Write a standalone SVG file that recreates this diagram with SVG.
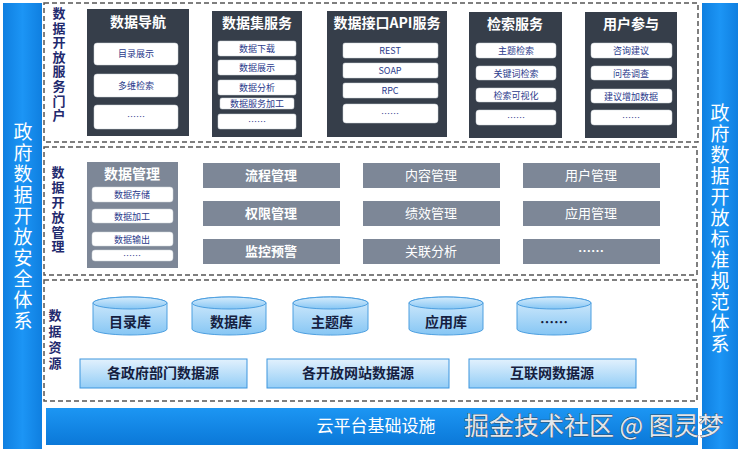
<svg xmlns="http://www.w3.org/2000/svg" width="740" height="453" viewBox="0 0 740 453">
<defs>
<linearGradient id="blueBar" x1="0" y1="0" x2="1" y2="0">
<stop offset="0" stop-color="#0f7fe0"/><stop offset="0.5" stop-color="#1c95f5"/><stop offset="1" stop-color="#0f7fe0"/>
</linearGradient>
<linearGradient id="cloud" x1="0" y1="0" x2="0" y2="1">
<stop offset="0" stop-color="#1c96f3"/><stop offset="1" stop-color="#0b78d8"/>
</linearGradient>
<linearGradient id="cyl" x1="0" y1="0" x2="0" y2="1">
<stop offset="0" stop-color="#d6ecfc"/><stop offset="1" stop-color="#86c6f4"/>
</linearGradient>
<linearGradient id="src" x1="0" y1="0" x2="0" y2="1">
<stop offset="0" stop-color="#e2f1fd"/><stop offset="1" stop-color="#93cdf6"/>
</linearGradient>
<style>
.dash{fill:#fff;stroke:#555;stroke-width:1.5;stroke-dasharray:5 3}
.side{fill:url(#blueBar)}
.vert{writing-mode:vertical-rl;text-orientation:upright}
.sideT{font-family:"Noto Sans CJK SC","Noto Sans",sans-serif;font-size:19px;fill:#fff}
.lbl{font-family:"Noto Sans CJK SC",sans-serif;font-size:13px;font-weight:bold;fill:#1f2a6e}
.panel{fill:#363e4a}
.pT{font-family:"Noto Sans CJK SC",sans-serif;font-size:14px;font-weight:bold;fill:#fff;text-anchor:middle}
.ib{fill:#fff;stroke:#cfd4da;stroke-width:0.5}
.iT{font-family:"Noto Sans CJK SC","Liberation Sans",sans-serif;font-size:9px;fill:#2b3b8c;text-anchor:middle}
.gray{fill:#7d8797}
.gT{font-family:"Noto Sans CJK SC",sans-serif;font-size:13px;fill:#fff;text-anchor:middle}
.cyl{fill:url(#cyl);stroke:#4d9fe0;stroke-width:1}
.cT{font-family:"Noto Sans CJK SC",sans-serif;font-size:14px;font-weight:bold;fill:#15203f;text-anchor:middle}
.srcB{fill:url(#src);stroke:#3d95de;stroke-width:1}
</style>
</defs>
<rect width="740" height="453" fill="#fff"/>

<g id="left-bar">
<rect class="side" x="3" y="3" width="39" height="446"/>
<text class="sideT vert" x="23" y="122" letter-spacing="2">政府数据开放安全体系</text>
</g>
<g id="right-bar">
<rect class="side" x="702" y="3" width="36" height="446"/>
<text class="sideT vert" x="720" y="103" font-size="18" letter-spacing="2">政府数据开放标准规范体系</text>
</g>

<g id="portal">
<rect class="dash" x="44" y="3" width="654" height="139"/>
<text class="lbl vert" x="59" y="6.5" letter-spacing="1.6">数据开放服务门户</text>
</g>
<g id="nav">
<rect class="panel" x="87" y="9" width="102" height="127"/>
<text class="pT" x="138" y="27">数据导航</text>
<rect class="ib" x="94" y="43" width="84" height="22" rx="3"/><text class="iT" x="136" y="57">目录展示</text>
<rect class="ib" x="94" y="74" width="84" height="23" rx="3"/><text class="iT" x="136" y="89">多维检索</text>
<rect class="ib" x="94" y="105" width="84" height="24" rx="3"/><text class="iT" x="136" y="120">……</text>
</g>
<g id="dataset">
<rect class="panel" x="212" y="11" width="90" height="126"/>
<text class="pT" x="257" y="28">数据集服务</text>
<rect class="ib" x="218" y="41" width="78" height="15" rx="2"/><text class="iT" x="257" y="52">数据下载</text>
<rect class="ib" x="218" y="60" width="78" height="15" rx="2"/><text class="iT" x="257" y="71">数据展示</text>
<rect class="ib" x="218" y="80" width="78" height="15" rx="2"/><text class="iT" x="257" y="91">数据分析</text>
<rect class="ib" x="220" y="98" width="74" height="11" rx="2"/><text class="iT" x="257" y="107">数据服务加工</text>
<rect class="ib" x="218" y="114" width="78" height="15" rx="2"/><text class="iT" x="257" y="125">……</text>
</g>
<g id="api">
<rect class="panel" x="327" y="11" width="120" height="126"/>
<text class="pT" x="387" y="28">数据接口API服务</text>
<rect class="ib" x="343" y="43" width="95" height="15" rx="2"/><text class="iT" x="390" y="54">REST</text>
<rect class="ib" x="343" y="63" width="95" height="15" rx="2"/><text class="iT" x="390" y="74">SOAP</text>
<rect class="ib" x="343" y="83" width="95" height="15" rx="2"/><text class="iT" x="390" y="94">RPC</text>
<rect class="ib" x="343" y="104" width="95" height="19" rx="3"/><text class="iT" x="390" y="117">……</text>
</g>
<g id="search">
<rect class="panel" x="469" y="12" width="93" height="126"/>
<text class="pT" x="515" y="29">检索服务</text>
<rect class="ib" x="476" y="43" width="80" height="15" rx="3"/><text class="iT" x="516" y="54">主题检索</text>
<rect class="ib" x="476" y="66" width="80" height="14" rx="3"/><text class="iT" x="516" y="77">关键词检索</text>
<rect class="ib" x="476" y="88" width="80" height="14" rx="3"/><text class="iT" x="516" y="99">检索可视化</text>
<rect class="ib" x="476" y="110" width="80" height="15" rx="3"/><text class="iT" x="516" y="121">……</text>
</g>
<g id="user">
<rect class="panel" x="585" y="12" width="92" height="126"/>
<text class="pT" x="631" y="29">用户参与</text>
<rect class="ib" x="591" y="43" width="81" height="15" rx="3"/><text class="iT" x="631" y="54">咨询建议</text>
<rect class="ib" x="591" y="66" width="81" height="14" rx="3"/><text class="iT" x="631" y="77">问卷调查</text>
<rect class="ib" x="591" y="89" width="81" height="14" rx="3"/><text class="iT" x="631" y="100">建议增加数据</text>
<rect class="ib" x="591" y="110" width="81" height="15" rx="3"/><text class="iT" x="631" y="121">……</text>
</g>

<g id="management">
<rect class="dash" x="44" y="147" width="653" height="128"/>
<text class="lbl vert" x="58" y="166" letter-spacing="1.8">数据开放管理</text>
</g>
<g id="datamgmt">
<rect class="gray" x="87" y="162" width="91" height="106"/>
<text class="pT" x="132" y="179">数据管理</text>
<rect class="ib" x="92" y="187" width="81" height="15" rx="3"/><text class="iT" x="132" y="198">数据存储</text>
<rect class="ib" x="92" y="209" width="81" height="14" rx="3"/><text class="iT" x="132" y="220">数据加工</text>
<rect class="ib" x="92" y="232" width="81" height="14" rx="3"/><text class="iT" x="132" y="243">数据输出</text>
<rect class="ib" x="92" y="250" width="81" height="11" rx="3"/><text class="iT" x="132" y="259">……</text>
</g>
<g id="m-grid">
<g id="m1"><rect class="gray" x="203" y="163" width="137" height="25"/><text class="gT" x="271" y="180" font-weight="bold">流程管理</text></g>
<g id="m2"><rect class="gray" x="363" y="163" width="137" height="25"/><text class="gT" x="431" y="180">内容管理</text></g>
<g id="m3"><rect class="gray" x="523" y="163" width="137" height="25"/><text class="gT" x="591" y="180">用户管理</text></g>
<g id="m4"><rect class="gray" x="203" y="201" width="137" height="25"/><text class="gT" x="271" y="218" font-weight="bold">权限管理</text></g>
<g id="m5"><rect class="gray" x="363" y="201" width="137" height="25"/><text class="gT" x="431" y="218">绩效管理</text></g>
<g id="m6"><rect class="gray" x="523" y="201" width="137" height="25"/><text class="gT" x="591" y="218">应用管理</text></g>
<g id="m7"><rect class="gray" x="203" y="239" width="137" height="25"/><text class="gT" x="271" y="256" font-weight="bold">监控预警</text></g>
<g id="m8"><rect class="gray" x="363" y="239" width="137" height="25"/><text class="gT" x="431" y="256">关联分析</text></g>
<g id="m9"><rect class="gray" x="523" y="239" width="137" height="25"/><text class="gT" x="591" y="256" font-weight="bold">……</text></g>
</g>

<g id="resources">
<rect class="dash" x="44" y="280" width="653" height="121"/>
<text class="lbl vert" x="55" y="309" font-size="12" fill="#3a4478" letter-spacing="3">数据资源</text>
</g>
<g id="db1"><path class="cyl" d="M93 303 V329 A37 6 0 0 0 167 329 V303 A37 6 0 0 0 93 303 Z"/><ellipse class="cyl" cx="130" cy="303" rx="37" ry="6"/><text class="cT" x="130" y="327">目录库</text></g>
<g id="db2"><path class="cyl" d="M192 303 V329 A37 6 0 0 0 266 329 V303 A37 6 0 0 0 192 303 Z"/><ellipse class="cyl" cx="229" cy="303" rx="37" ry="6"/><text class="cT" x="231" y="327">数据库</text></g>
<g id="db3"><path class="cyl" d="M293 303 V329 A37 6 0 0 0 368 329 V303 A37 6 0 0 0 293 303 Z"/><ellipse class="cyl" cx="330.5" cy="303" rx="37.5" ry="6"/><text class="cT" x="332" y="327">主题库</text></g>
<g id="db4"><path class="cyl" d="M409 303 V329 A37 6 0 0 0 483 329 V303 A37 6 0 0 0 409 303 Z"/><ellipse class="cyl" cx="446" cy="303" rx="37" ry="6"/><text class="cT" x="446" y="327">应用库</text></g>
<g id="db5"><path class="cyl" d="M517 303 V329 A37 6 0 0 0 591 329 V303 A37 6 0 0 0 517 303 Z"/><ellipse class="cyl" cx="554" cy="303" rx="37" ry="6"/><text class="cT" x="554" y="327">……</text></g>
<g id="src1"><rect class="srcB" x="80" y="359" width="167" height="29"/><text class="cT" x="163" y="378">各政府部门数据源</text></g>
<g id="src2"><rect class="srcB" x="267" y="359" width="182" height="29"/><text class="cT" x="358" y="378">各开放网站数据源</text></g>
<g id="src3"><rect class="srcB" x="469" y="359" width="167" height="29"/><text class="cT" x="552" y="378">互联网数据源</text></g>

<g id="cloud-platform">
<rect x="46" y="408" width="652" height="37" fill="url(#cloud)"/>
<text x="376" y="432" font-family="Noto Sans CJK SC,sans-serif" font-size="17" fill="#fff" text-anchor="middle">云平台基础设施</text>
</g>
<g id="watermark">
<text x="464" y="435" font-family="Noto Sans CJK SC,sans-serif" font-size="25" fill="#e3e7ec" stroke="#3b4a5c" stroke-width="0.8" paint-order="stroke">掘金技术社区 @ 图灵梦</text>
</g>
</svg>
